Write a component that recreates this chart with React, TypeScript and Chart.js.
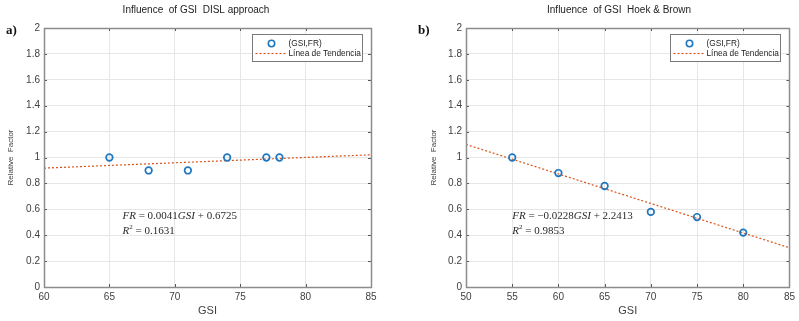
import React, { useEffect, useRef } from "react";
import { Chart, registerables } from "chart.js";
Chart.register(...registerables);

// ---- data ----
const gsiDisl = [65, 68, 71, 74, 77, 78];
const frDisl = [1, 0.9, 0.9, 1, 1, 1];
const trendDislX = [60, 85];
const trendDislY = [0.918, 1.021];

const gsiHoek = [55, 60, 65, 70, 75, 80];
const frHoek = [1, 0.88, 0.78, 0.58, 0.54, 0.42];
const trendHoekX = [50, 85];
const trendHoekY = [1.101, 0.303];

const titles = ["Influence  of GSI  DISL approach", "Influence  of GSI  Hoek & Brown"];
const panelLabels = ["a)", "b)"];
const seriesLabels = ["(GSI,FR)", "Línea de Tendencia"];
const xAxisTitle = "GSI";
const yAxisTitle = "Relative  Factor";
const eqDisl = [" = 0.0041", " + 0.6725", " = 0.1631"];
const eqHoek = [" = \u22120.0228", " + 2.2413", " = 0.9853"];

const SANS = "'Liberation Sans', Arial, sans-serif";
const SERIF = "'Liberation Serif', 'Times New Roman', serif";
const BLUE = "#1f77c0";
const ORANGE = "#d95319";

type PanelCfg = {
  width: number;
  left: number;
  xs: number[];
  ys: number[];
  tx: number[];
  ty: number[];
  xMin: number;
  xMax: number;
  title: string;
  titleX: number;
  label: string;
  labelX: number;
  eq: string[];
  eqAt: [number, number];
  yAxisWidth: number;
  padRight: number;
  yTitlePad: number;
};

function drawSegs(ctx: CanvasRenderingContext2D, x: number, y: number, segs: { t: string; i: boolean; sup?: boolean }[]) {
  let cx = x;
  for (const s of segs) {
    if (s.sup) {
      ctx.font = `7px ${SERIF}`;
      ctx.fillText(s.t, cx, y - 4);
      cx += ctx.measureText(s.t).width;
    } else {
      ctx.font = `${s.i ? "italic " : ""}11px ${SERIF}`;
      ctx.fillText(s.t, cx, y);
      cx += ctx.measureText(s.t).width;
    }
  }
}

function makeDecor(cfg: PanelCfg) {
  return {
    id: "decor",
    afterDraw(chart: any) {
      const { ctx, chartArea: a, scales } = chart;
      const xs = scales.x;
      const ys = scales.y;
      ctx.save();
      // inward ticks
      ctx.strokeStyle = "#555";
      ctx.lineWidth = 1;
      ctx.beginPath();
      for (const t of xs.ticks) {
        const px = Math.round(xs.getPixelForValue(t.value)) + 0.5;
        ctx.moveTo(px, a.bottom);
        ctx.lineTo(px, a.bottom - 3);
        ctx.moveTo(px, a.top);
        ctx.lineTo(px, a.top + 3);
      }
      for (const t of ys.ticks) {
        const py = Math.round(ys.getPixelForValue(t.value)) + 0.5;
        ctx.moveTo(a.left, py);
        ctx.lineTo(a.left + 3, py);
        ctx.moveTo(a.right, py);
        ctx.lineTo(a.right - 3, py);
      }
      ctx.stroke();
      // box
      ctx.strokeStyle = "#8c8c8c";
      ctx.lineWidth = 1.5;
      ctx.strokeRect(Math.round(a.left) + 0.5, Math.round(a.top) + 0.5, Math.round(a.right - a.left), Math.round(a.bottom - a.top));

      // title
      ctx.fillStyle = "#222";
      ctx.font = `10px ${SANS}`;
      ctx.textAlign = "center";
      ctx.textBaseline = "middle";
      ctx.fillText(cfg.title, cfg.titleX, 10.5);
      // panel label
      ctx.textAlign = "left";
      ctx.font = `bold 13px ${SERIF}`;
      ctx.fillStyle = "#111";
      ctx.fillText(cfg.label, cfg.labelX, 31);

      // equation
      ctx.fillStyle = "#2a2a2a";
      const ex = xs.getPixelForValue(cfg.eqAt[0]);
      const ey = ys.getPixelForValue(cfg.eqAt[1]);
      drawSegs(ctx, ex, ey, [
        { t: "FR", i: true },
        { t: cfg.eq[0], i: false },
        { t: "GSI", i: true },
        { t: cfg.eq[1], i: false },
      ]);
      drawSegs(ctx, ex, ey + 15, [
        { t: "R", i: true },
        { t: "2", i: false, sup: true },
        { t: cfg.eq[2], i: false },
      ]);

      // legend
      const bw = 110;
      const bh = 27;
      const bx = Math.round(a.right - 9 - bw) + 0.5;
      const by = Math.round(a.top + 6) + 0.5;
      ctx.fillStyle = "#fff";
      ctx.fillRect(bx, by, bw, bh);
      ctx.strokeStyle = "#7a7a7a";
      ctx.lineWidth = 1;
      ctx.strokeRect(bx, by, bw, bh);
      ctx.strokeStyle = BLUE;
      ctx.lineWidth = 1.6;
      ctx.beginPath();
      ctx.arc(bx + 19, by + 9, 3.2, 0, Math.PI * 2);
      ctx.stroke();
      ctx.strokeStyle = ORANGE;
      ctx.lineWidth = 1.2;
      ctx.setLineDash([2, 2]);
      ctx.beginPath();
      ctx.moveTo(bx + 3, by + 19);
      ctx.lineTo(bx + 35, by + 19);
      ctx.stroke();
      ctx.setLineDash([]);
      ctx.fillStyle = "#222";
      ctx.font = `8.3px ${SANS}`;
      ctx.textBaseline = "middle";
      ctx.fillText(seriesLabels[0], bx + 36, by + 9);
      ctx.fillText(seriesLabels[1], bx + 36, by + 19);
      ctx.restore();
    },
  };
}

function Panel({ cfg }: { cfg: PanelCfg }) {
  const ref = useRef<HTMLCanvasElement>(null);
  useEffect(() => {
    const chart = new Chart(ref.current!, {
      type: "scatter",
      data: {
        datasets: [
          {
            label: seriesLabels[0],
            data: cfg.xs.map((x, i) => ({ x, y: cfg.ys[i] })),
            borderColor: BLUE,
            backgroundColor: "rgba(0,0,0,0)",
            pointRadius: 3.3,
            pointBorderWidth: 1.7,
            order: 1,
          },
          {
            label: seriesLabels[1],
            data: cfg.tx.map((x, i) => ({ x, y: cfg.ty[i] })),
            showLine: true,
            borderColor: ORANGE,
            borderWidth: 1.2,
            borderDash: [2, 2],
            pointRadius: 0,
            order: 2,
          },
        ],
      },
      options: {
        responsive: false,
        animation: false,
        layout: { padding: { left: 0, right: cfg.padRight, top: 28, bottom: 0 } },
        plugins: { legend: { display: false }, title: { display: false }, tooltip: { enabled: false } },
        scales: {
          x: {
            type: "linear",
            min: cfg.xMin,
            max: cfg.xMax,
            afterFit: (s: any) => {
              s.height = 34;
            },
            ticks: { stepSize: 5, color: "#404040", padding: 4, font: { family: SANS, size: 10 } },
            grid: { color: "#e6e6e6", drawTicks: false },
            border: { display: false },
            title: { display: true, text: xAxisTitle, color: "#404040", font: { family: SANS, size: 11 }, padding: { top: 0, bottom: 3.4 } },
          },
          y: {
            type: "linear",
            min: 0,
            max: 2,
            afterFit: (s: any) => {
              s.width = cfg.yAxisWidth;
            },
            ticks: {
              stepSize: 0.2,
              color: "#404040",
              padding: 4,
              font: { family: SANS, size: 10 },
              callback: (v: any) => String(Number(Number(v).toFixed(1))),
            },
            grid: { color: "#e6e6e6", drawTicks: false },
            border: { display: false },
            title: { display: true, text: yAxisTitle, color: "#404040", font: { family: SANS, size: 8 }, padding: { top: cfg.yTitlePad, bottom: 0 } },
          },
        },
      },
      plugins: [makeDecor(cfg)],
    } as any);
    return () => chart.destroy();
  }, [cfg]);
  return (
    <canvas
      ref={ref}
      width={cfg.width}
      height={321}
      style={{ position: "absolute", left: cfg.left, top: 0, width: cfg.width, height: 321 }}
    />
  );
}

const leftCfg: PanelCfg = {
  width: 400,
  left: 0,
  xs: gsiDisl,
  ys: frDisl,
  tx: trendDislX,
  ty: trendDislY,
  xMin: 60,
  xMax: 85,
  title: titles[0],
  titleX: 196,
  label: panelLabels[0],
  labelX: 6,
  eq: eqDisl,
  eqAt: [66, 0.55],
  yAxisWidth: 44,
  padRight: 29,
  yTitlePad: 6.2,
};

const rightCfg: PanelCfg = {
  width: 399,
  left: 400,
  xs: gsiHoek,
  ys: frHoek,
  tx: trendHoekX,
  ty: trendHoekY,
  xMin: 50,
  xMax: 85,
  title: titles[1],
  titleX: 219,
  label: panelLabels[1],
  labelX: 18,
  eq: eqHoek,
  eqAt: [55, 0.55],
  yAxisWidth: 66,
  padRight: 7,
  yTitlePad: 29,
};

export default function App() {
  return (
    <div style={{ position: "absolute", left: 0, top: 0, width: 799, height: 321, background: "#fff" }}>
      <Panel cfg={leftCfg} />
      <Panel cfg={rightCfg} />
    </div>
  );
}
